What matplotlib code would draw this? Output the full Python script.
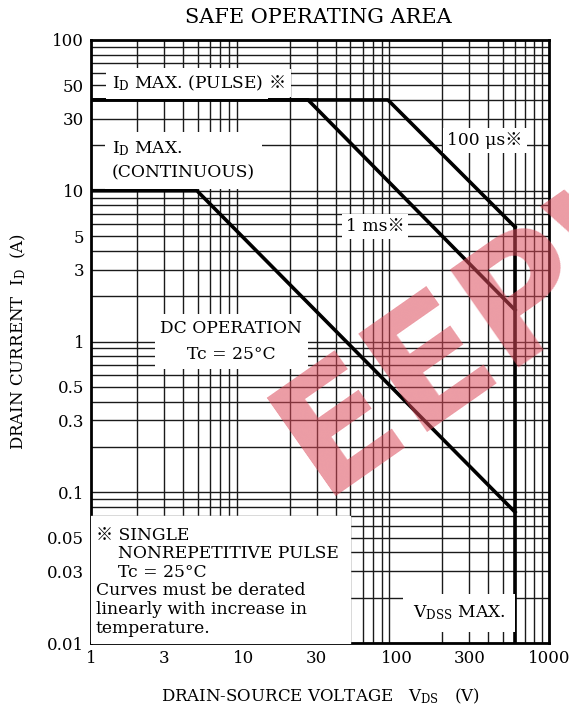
import numpy as np
import matplotlib
matplotlib.use("Agg")
import matplotlib.pyplot as plt

# Data (V, A)
dc_v = [1, 4.94, 598]
dc_i = [10, 10, 0.074]
ms1_v = [1, 26.4, 598]
ms1_i = [40, 40, 1.62]
us100_v = [1, 88, 598]
us100_i = [40, 40, 5.75]
vdss_v = [598, 598]
vdss_i = [5.75, 0.01]

xticks = [1, 3, 10, 30, 100, 300, 1000]
xtick_labels = ["1", "3", "10", "30", "100", "300", "1000"]
yticks = [0.01, 0.03, 0.05, 0.1, 0.3, 0.5, 1, 3, 5, 10, 30, 50, 100]
ytick_labels = ["0.01", "0.03", "0.05", "0.1", "0.3", "0.5", "1", "3", "5",
                "10", "30", "50", "100"]

plt.rcParams['font.family'] = ['DejaVu Serif', 'Noto Sans CJK JP']
plt.rcParams['mathtext.fontset'] = 'dejavuserif'

fig = plt.figure(figsize=(5.69, 7.13), dpi=100)
ax = fig.add_axes([0.160, 0.098, 0.805, 0.846])
ax.set_xscale("log")
ax.set_yscale("log")
ax.set_xlim(1, 1000)
ax.set_ylim(0.01, 100)

# grid at 1..9 of every decade
for d in [1, 10, 100]:
    for k in range(2, 10):
        ax.axvline(d * k, color="#1a1a1a", lw=1.0, zorder=1)
for d in [0.01, 0.1, 1, 10]:
    for k in range(1, 10):
        ax.axhline(d * k, color="#1a1a1a", lw=1.0, zorder=1)

lw = 2.6
ax.plot(dc_v, dc_i, color="black", lw=lw, zorder=4)
ax.plot(ms1_v, ms1_i, color="black", lw=lw, zorder=4)
ax.plot(us100_v, us100_i, color="black", lw=lw, zorder=4)
ax.plot(vdss_v, vdss_i, color="black", lw=lw, zorder=4)

ax.set_xticks(xticks)
ax.set_xticklabels(xtick_labels)
ax.set_yticks(yticks)
ax.set_yticklabels(ytick_labels)
ax.minorticks_off()
ax.tick_params(length=0, labelsize=12, pad=5)
for s in ax.spines.values():
    s.set_linewidth(2)

fs = 12.3
wb = dict(facecolor="white", edgecolor="none", pad=3)

t1 = ax.text(0.045, 0.928, r"I$_\mathrm{D}$ MAX. (PULSE)", transform=ax.transAxes,
             fontsize=fs, va="center", ha="left", zorder=5,
             bbox=dict(facecolor="white", edgecolor="none", pad=4))
ax.annotate("※", xy=(1, 0.5), xycoords=t1, xytext=(4, 0), textcoords="offset points",
            fontsize=fs, va="center", ha="left", zorder=6,
            bbox=dict(facecolor="white", edgecolor="none", pad=4))

ax.text(0.045, 0.800, "I$_\\mathrm{D}$ MAX.\n(CONTINUOUS)", transform=ax.transAxes,
        fontsize=fs, va="center", ha="left", zorder=5, linespacing=1.5,
        bbox=dict(facecolor="white", edgecolor="none", pad=5))

ax.text(0.860, 0.833, "100 μs※", transform=ax.transAxes, fontsize=fs,
        va="center", ha="center", zorder=5, bbox=wb)
ax.text(0.620, 0.691, "1 ms※", transform=ax.transAxes, fontsize=fs,
        va="center", ha="center", zorder=5, bbox=wb)
ax.text(0.306, 0.500, "DC OPERATION\nTc = 25°C", transform=ax.transAxes,
        fontsize=fs, va="center", ha="center", zorder=5, linespacing=1.7,
        multialignment="center", bbox=dict(facecolor="white", edgecolor="none", pad=4))

ax.text(0.904, 0.050, r"V$_\mathrm{DSS}$ MAX.", transform=ax.transAxes, fontsize=fs,
        va="center", ha="right", zorder=5,
        bbox=dict(facecolor="white", edgecolor="none", pad=7))

# note box in the lower left
ax.fill_between([1, 50], 0.01, 0.07, color="white", zorder=3)
note = ("※ SINGLE\n    NONREPETITIVE PULSE\n    Tc = 25°C\nCurves must be derated\n"
        "linearly with increase in\ntemperature.")
ax.text(0.010, 0.193, note, transform=ax.transAxes, fontsize=fs, va="top", ha="left",
        zorder=5, linespacing=1.12)

fig.text(0.56, 0.976, "SAFE OPERATING AREA", fontsize=15, ha="center", va="center")
ax.set_xlabel(r"DRAIN-SOURCE VOLTAGE   V$_\mathrm{DS}$   (V)", fontsize=12, labelpad=14)
ax.set_ylabel(r"DRAIN CURRENT  I$_\mathrm{D}$  (A)", fontsize=12, labelpad=14)

# red watermark
fig.text(0.565, 0.305, "EEPW", fontsize=118, fontweight="bold", family="DejaVu Sans",
         color="#dc4a5a", alpha=0.55, rotation=35, rotation_mode="anchor",
         ha="left", va="baseline", zorder=10)

fig.savefig("out.png", dpi=100)
